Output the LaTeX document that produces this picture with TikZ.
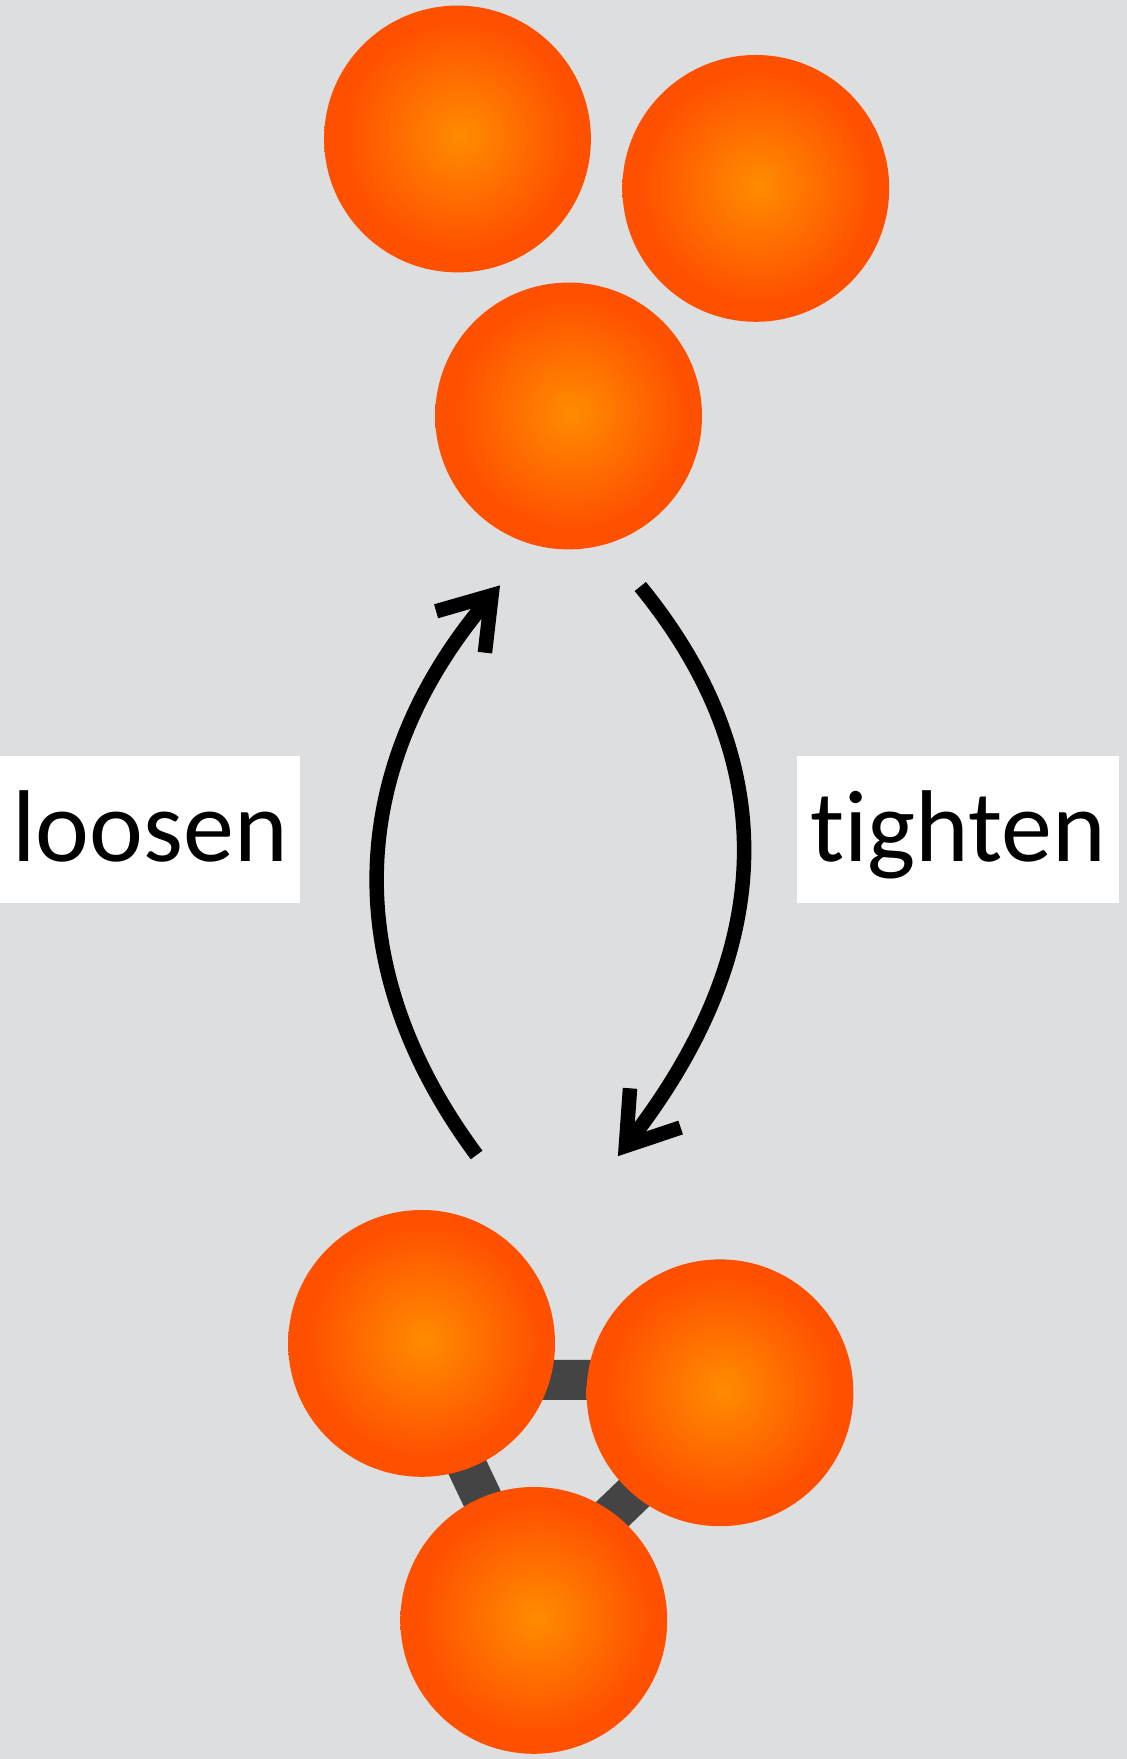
\documentclass[tikz,border=0pt]{standalone}
\usepackage{fontspec}
\setmainfont{Carlito}[Ligatures=NoCommon]
\usetikzlibrary{arrows.meta,backgrounds}
\definecolor{bggray}{HTML}{DDDEE0}
\definecolor{ballin}{HTML}{FF8C00}
\definecolor{ballout}{HTML}{FF5000}
\definecolor{bondgray}{HTML}{444444}
\pgfdeclareradialshading{ballshade}{\pgfpoint{0.6bp}{0.6bp}}{color(0bp)=(ballin); color(22bp)=(ballout); color(60bp)=(ballout)}
\tikzset{
  ball/.style={circle, minimum size=266.8pt, inner sep=0pt, shade, shading=ballshade},
  bond/.style={draw=bondgray, line width=40pt},
  flow/.style={line width=14.5pt, -{Straight Barb[length=48pt,width=64pt]}},
  tag/.style={fill=white, inner sep=0pt, text height=80pt, text depth=16pt, minimum height=147pt, font=\fontsize{102}{112}\selectfont},
}

\begin{document}
\begin{tikzpicture}[x=1pt,y=1pt]
	\useasboundingbox (0,0) rectangle (1127,1759);
	\begin{scope}[on background layer]
		\fill[bggray] (0,0) rectangle (1127,1759);
	\end{scope}
	% loose
	\node[ball] (loose a) at (457.5,1620) {};
	\node[ball] (loose b) at (755.8,1570.6) {};
	\node[ball] (loose c) at (568.6,1343) {};
	% tight
	\node[ball] (tight a) at (421.6,415.6) {};
	\node[ball] (tight b) at (720,366.2) {};
	\node[ball] (tight c) at (533.8,138.6) {};
	\coordinate (bond a) at (426,379);
	\coordinate (bond b) at (752,379);
	\coordinate (bond c) at (528,164);
	\begin{scope}[on background layer]
		\draw[bond] (bond a) -- (bond b) -- (bond c) -- cycle;
	\end{scope}
	% arrows
	\coordinate (loosen from) at (476.6,604);
	\coordinate (loosen to) at (500,1173.6);
	\coordinate (tighten from) at (640.3,1172.5);
	\coordinate (tighten to) at (617.9,602.8);
	\draw[flow] (loosen from) .. controls (332,799) and (352,999) .. (loosen to);
	\draw[flow] (tighten from) .. controls (790,989) and (770,799) .. (tighten to);
	\node[tag, minimum width=300.5pt] (loosen) at (150.2,929.8) {loosen};
	\node[tag, minimum width=321.7pt] (tighten) at (958.2,929.8) {tighten};
\end{tikzpicture}
\end{document}
